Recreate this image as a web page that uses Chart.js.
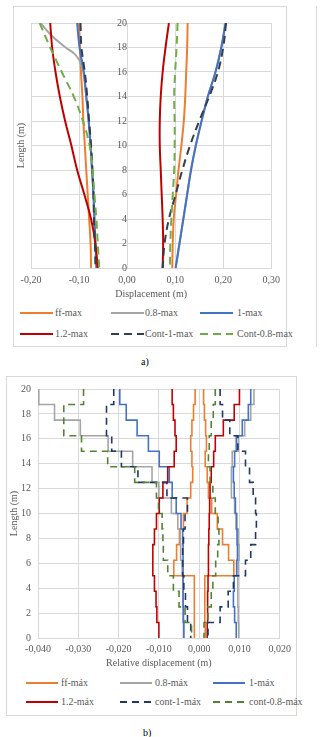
<!DOCTYPE html>
<html>
<head>
<meta charset="utf-8">
<script src="https://cdn.jsdelivr.net/npm/chart.js@4.4.0/dist/chart.umd.min.js"></script>
<style>
    body { margin: 0; background: #fff; font-family: "Liberation Serif", serif; }
    #page { position: relative; width: 322px; height: 737px; overflow: hidden; }
    .box { position: absolute; border: 1px solid #d9d9d9; box-sizing: border-box; }
    canvas { position: absolute; }
    .leg { position: absolute; font-size: 10px; color: #595959; white-space: nowrap; line-height: 12px; }
    .cap { position: absolute; font-size: 10px; color: #000; line-height: 12px; }
    svg { position: absolute; overflow: visible; }
</style>
</head>
<body>
<div id="page">
    <div class="box" style="left:13px;top:6px;width:274px;height:341px"></div>
    <div class="box" style="left:316px;top:6px;width:1px;height:341px;border-width:0 0 0 1px"></div>
    <div class="box" style="left:6px;top:376px;width:291px;height:340px"></div>
    <canvas id="chartA" width="273" height="298" style="left:13px;top:6px"></canvas>
    <canvas id="chartB" width="290" height="297" style="left:6px;top:376px"></canvas>
    <div class="cap" style="left:141px;top:356px">a)</div>
    <div class="cap" style="left:143px;top:727px">b)</div>
</div>
<script>
// ---- chart a) displacement, smooth curves (left and right envelope) ----
const lenA = [20, 18, 16, 14, 12, 10, 8, 6, 4, 2, 0];
const lenA08 = [20, 19, 18, 17.5, 17, 16.5, 16, 14, 12, 10, 8, 6, 4, 2, 0];
const aFfL = [-0.100, -0.098, -0.096, -0.093, -0.091, -0.088, -0.085, -0.082, -0.079, -0.076, -0.075];
const aFfR = [0.126, 0.125, 0.123, 0.121, 0.118, 0.113, 0.107, 0.102, 0.097, 0.095, 0.094];
const a08L = [-0.180, -0.158, -0.128, -0.110, -0.100, -0.095, -0.091, -0.085, -0.080, -0.076, -0.073, -0.070, -0.068, -0.066, -0.063];
const a08R = [0.205, 0.196, 0.184, 0.168, 0.155, 0.143, 0.133, 0.125, 0.117, 0.109, 0.101];
const a1L = [-0.104, -0.099, -0.090, -0.085, -0.080, -0.076, -0.073, -0.070, -0.068, -0.066, -0.064];
const a1R = [0.205, 0.196, 0.184, 0.168, 0.155, 0.143, 0.133, 0.125, 0.117, 0.109, 0.101];
const a12L = [-0.160, -0.156, -0.149, -0.140, -0.129, -0.116, -0.104, -0.089, -0.075, -0.066, -0.061];
const a12R = [0.087, 0.080, 0.074, 0.070, 0.068, 0.068, 0.070, 0.072, 0.074, 0.075, 0.074];
const aC1L = [-0.097, -0.095, -0.088, -0.083, -0.079, -0.075, -0.072, -0.070, -0.069, -0.067, -0.066];
const aC1R = [0.206, 0.200, 0.189, 0.171, 0.150, 0.131, 0.115, 0.101, 0.087, 0.078, 0.074];
const aC08L = [-0.182, -0.160, -0.136, -0.111, -0.092, -0.078, -0.072, -0.068, -0.064, -0.061, -0.058];
const aC08R = [0.105, 0.103, 0.100, 0.098, 0.099, 0.099, 0.098, 0.095, 0.092, 0.090, 0.089];
const namesA = ["ff-max", "0.8-max", "1-max", "1.2-max", "Cont-1-max", "Cont-0.8-max"];
const xTicksA = [-0.2, 0.3, 0.1];

// ---- chart b) relative displacement, stepped per layer ----
const lenB = [20, 18.75, 17.5, 16.25, 15, 13.75, 12.5, 11.25, 10, 8.75, 7.5, 6.25, 5, 3.75, 2.5, 1.25, 0];
const bFfL = [-0.0010, -0.0014, -0.0018, -0.0021, -0.0018, -0.0016, -0.0021, -0.0030, -0.0039, -0.0049, -0.0056, -0.0063, -0.0012, -0.0012, -0.0012, -0.0012];
const bFfR = [0.0011, 0.0013, 0.0016, 0.0018, 0.0015, 0.0020, 0.0023, 0.0031, 0.0045, 0.0058, 0.0073, 0.0086, 0.0014, 0.0014, 0.0014, 0.0015];
const b08L = [-0.0398, -0.0359, -0.0295, -0.0226, -0.0165, -0.0117, -0.0100, -0.0069, -0.0053, -0.0047, -0.0046, -0.0042, -0.0040, -0.0040, -0.0040, -0.0039];
const b08R = [0.0136, 0.0128, 0.0113, 0.0097, 0.0082, 0.0080, 0.0080, 0.0088, 0.0094, 0.0097, 0.0099, 0.0097, 0.0096, 0.0096, 0.0097, 0.0098];
const b1L = [-0.0197, -0.0181, -0.0154, -0.0126, -0.0099, -0.0074, -0.0067, -0.0057, -0.0045, -0.0041, -0.0040, -0.0040, -0.0040, -0.0040, -0.0039, -0.0038];
const b1R = [0.0128, 0.0122, 0.0107, 0.0092, 0.0088, 0.0085, 0.0087, 0.0090, 0.0092, 0.0094, 0.0095, 0.0093, 0.0087, 0.0085, 0.0088, 0.0092];
const b12L = [-0.0067, -0.0064, -0.0060, -0.0057, -0.0062, -0.0078, -0.0090, -0.0099, -0.0106, -0.0111, -0.0115, -0.0115, -0.0111, -0.0107, -0.0105, -0.0100];
const b12R = [0.0100, 0.0087, 0.0060, 0.0040, 0.0036, 0.0030, 0.0027, 0.0026, 0.0025, 0.0024, 0.0023, 0.0023, 0.0022, 0.0021, 0.0021, 0.0020];
const bC1L = [-0.0212, -0.0230, -0.0230, -0.0217, -0.0193, -0.0152, -0.0080, -0.0029, -0.0035, -0.0039, -0.0041, -0.0041, -0.0038, -0.0034, -0.0029, -0.0021];
const bC1R = [0.0052, 0.0058, 0.0076, 0.0096, 0.0115, 0.0125, 0.0134, 0.0140, 0.0142, 0.0140, 0.0128, 0.0115, 0.0085, 0.0072, 0.0052, 0.0022];
const bC08L = [-0.0287, -0.0336, -0.0336, -0.0292, -0.0227, -0.0160, -0.0106, -0.0101, -0.0092, -0.0090, -0.0089, -0.0078, -0.0064, -0.0050, -0.0035, -0.0019];
const bC08R = [0.0040, 0.0035, 0.0030, 0.0025, 0.0023, 0.0027, 0.0034, 0.0040, 0.0047, 0.0049, 0.0046, 0.0041, 0.0034, 0.0030, 0.0022, 0.0012];
const namesB = ["ff-máx", "0.8-máx", "1-máx", "1.2-máx", "cont-1-máx", "cont-0.8-máx"];
const xTicksB = [-0.04, 0.02, 0.01];

const colorsA = ["#ED7D31", "#A5A5A5", "#4472C4", "#C00000", "#333F50", "#70AD47"];
const colorsB = ["#ED7D31", "#A5A5A5", "#4472C4", "#C00000", "#1F3864", "#548235"];
const dashed = [false, false, false, false, true, true];
const grey = "#595959";

Chart.defaults.font.family = "'Liberation Serif', serif";
Chart.defaults.font.size = 10;
Chart.defaults.color = grey;

function fmt(v, d) {
    if (Math.abs(v) < 1e-9) v = 0;
    return v.toFixed(d).replace(".", ",");
}

function points(xs, ys) {
    return xs.map((x, i) => ({ x: x, y: ys[i] }));
}

// layer values -> points at layer tops, last value repeated at the base
function layerPoints(vals) {
    let xs = vals.concat([vals[vals.length - 1]]);
    return points(xs, lenB);
}

function makeSet(i, data, colors, dash, width, stepped) {
    return {
        data: data,
        showLine: true,
        borderColor: colors[i],
        borderWidth: width,
        borderDash: dashed[i] ? dash : [],
        pointRadius: 0,
        tension: stepped ? 0 : 0.4,
        stepped: stepped ? "after" : false,
        fill: false,
        order: 10 - i,
        xAxisID: "x",
        yAxisID: "y",
    };
}

// chart a)
let setsA = [];
let leftA = [aFfL, a08L, a1L, a12L, aC1L, aC08L];
let rightA = [aFfR, a08R, a1R, a12R, aC1R, aC08R];
for (let i = 0; i < 6; i++) {
    let ys = i === 1 ? lenA08 : lenA;
    setsA.push(makeSet(i, points(leftA[i], ys), colorsA, [8, 5], 2, false));
    setsA.push(makeSet(i, points(rightA[i], lenA), colorsA, [8, 5], 2, false));
}

new Chart(document.getElementById("chartA"), {
    type: "scatter",
    data: { datasets: setsA },
    options: {
        responsive: false,
        animation: false,
        layout: { padding: { top: 17, right: 10, left: 0, bottom: 0 } },
        plugins: { legend: { display: false }, tooltip: { enabled: false } },
        scales: {
            x: {
                type: "linear",
                min: xTicksA[0],
                max: xTicksA[1],
                ticks: { stepSize: xTicksA[2], padding: 6, callback: (v) => fmt(v, 2) },
                grid: { color: "#d9d9d9", drawTicks: false },
                border: { color: "#d9d9d9" },
                title: { display: true, text: "Displacement (m)", padding: { top: 2, bottom: 4 } },
                afterFit: (s) => { s.height = 36; },
            },
            y: {
                type: "linear",
                min: 0,
                max: 20,
                position: { x: 0 },
                ticks: { stepSize: 2, padding: 8 },
                grid: { color: "#d9d9d9", drawTicks: false },
                border: { color: "#d9d9d9" },
            },
            y2: {
                type: "linear",
                min: 0,
                max: 20,
                position: "left",
                ticks: { display: false },
                grid: { display: false, drawTicks: false },
                border: { display: false },
                title: { display: true, text: "Length (m)", padding: { top: 2, bottom: 4 } },
                afterFit: (s) => { s.width = 18; },
            },
        },
    },
});

// chart b)
let setsB = [];
let leftB = [bFfL, b08L, b1L, b12L, bC1L, bC08L];
let rightB = [bFfR, b08R, b1R, b12R, bC1R, bC08R];
for (let i = 0; i < 6; i++) {
    setsB.push(makeSet(i, layerPoints(leftB[i]), colorsB, [7, 5], 1.6, true));
    setsB.push(makeSet(i, layerPoints(rightB[i]), colorsB, [7, 5], 1.6, true));
}

new Chart(document.getElementById("chartB"), {
    type: "scatter",
    data: { datasets: setsB },
    options: {
        responsive: false,
        animation: false,
        layout: { padding: { top: 10, right: 15, left: 0, bottom: 0 } },
        plugins: { legend: { display: false }, tooltip: { enabled: false } },
        scales: {
            x: {
                type: "linear",
                min: xTicksB[0],
                max: xTicksB[1],
                ticks: { stepSize: xTicksB[2], padding: 5, callback: (v) => fmt(v, 3) },
                grid: { color: "#d9d9d9", drawTicks: false },
                border: { color: "#d9d9d9" },
                title: { display: true, text: "Relative displacement (m)", padding: { top: 2, bottom: 4 } },
                afterFit: (s) => { s.height = 35; },
            },
            y: {
                type: "linear",
                min: 0,
                max: 20,
                position: "left",
                ticks: { stepSize: 2, padding: 7 },
                grid: { color: "#d9d9d9", drawTicks: false },
                border: { color: "#d9d9d9" },
                title: { display: true, text: "Length (m)", padding: { top: 2, bottom: 1 } },
                afterFit: (s) => { s.width = 32; },
            },
        },
    },
});

// legends: 3 columns x 2 rows, like the original
function legend(names, colors, dash, rows, lineX, textX, len) {
    let page = document.getElementById("page");
    for (let i = 0; i < names.length; i++) {
        let r = rows[Math.floor(i / 3)];
        let c = i % 3;
        let svg = document.createElementNS("http://www.w3.org/2000/svg", "svg");
        svg.setAttribute("width", len);
        svg.setAttribute("height", 4);
        svg.style.left = lineX[c] + "px";
        svg.style.top = (r - 2) + "px";
        let ln = document.createElementNS("http://www.w3.org/2000/svg", "line");
        ln.setAttribute("x1", 0);
        ln.setAttribute("x2", len);
        ln.setAttribute("y1", 2);
        ln.setAttribute("y2", 2);
        ln.setAttribute("stroke", colors[i]);
        ln.setAttribute("stroke-width", 2);
        if (dashed[i]) ln.setAttribute("stroke-dasharray", dash);
        svg.appendChild(ln);
        page.appendChild(svg);
        let t = document.createElement("div");
        t.className = "leg";
        t.textContent = names[i];
        t.style.left = textX[c] + "px";
        t.style.top = (r - 6) + "px";
        page.appendChild(t);
    }
}
legend(namesA, colorsA, "8,5", [313, 334], [20, 111, 200], [55, 145, 237], 33);
legend(namesB, colorsB, "7,5", [683, 702], [26, 120, 213], [61, 155, 249], 32);
</script>
</body>
</html>
